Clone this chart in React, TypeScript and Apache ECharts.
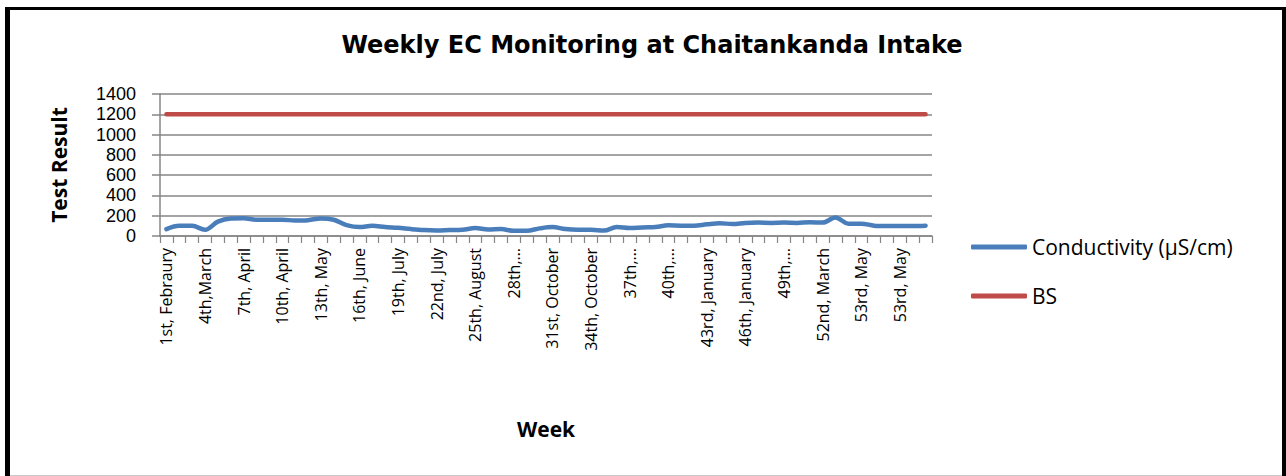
import React, { useEffect, useRef } from "react";
import * as echarts from "echarts";

const weeks: string[] = [
  "1st, Febraury", "2nd, Febraury", "3rd, Febraury", "4th,March", "5th, March", "6th, March",
  "7th, April", "8th, April", "9th, April", "10th, April", "11th, April", "12th, May",
  "13th, May", "14th, May", "15th, June", "16th, June", "17th, June", "18th, July",
  "19th, July", "20th, July", "21st, July", "22nd, July", "23rd, August", "24th, August",
  "25th, August", "26th, September", "27th, September", "28th,…", "29th, September", "30th, October",
  "31st, October", "32nd, October", "33rd, October", "34th, October", "35th, November", "36th, November",
  "37th,…", "38th, November", "39th, December", "40th,…", "41st, December", "42nd, January",
  "43rd, January", "44th, January", "45th, January", "46th, January", "47th, February", "48th, February",
  "49th,…", "50th, February", "51st, March", "52nd, March", "53rd, April", "53rd, April",
  "53rd, May", "53rd, May", "53rd, May", "53rd, May", "53rd, June", "53rd, June",
];

const conductivity: number[] = [
  68, 100, 100, 61, 142, 173, 176, 160, 160, 160,
  153, 156, 173, 160, 108, 88, 100, 88, 81, 68,
  58, 54, 58, 61, 78, 64, 68, 51, 51, 75,
  88, 68, 61, 61, 54, 88, 78, 85, 88, 105,
  102, 102, 115, 125, 119, 129, 132, 129, 132, 129,
  136, 132, 183, 122, 122, 102, 98, 98, 98, 102,
];

const bs: number[] = [
  1200, 1200, 1200, 1200, 1200, 1200, 1200, 1200, 1200, 1200,
  1200, 1200, 1200, 1200, 1200, 1200, 1200, 1200, 1200, 1200,
  1200, 1200, 1200, 1200, 1200, 1200, 1200, 1200, 1200, 1200,
  1200, 1200, 1200, 1200, 1200, 1200, 1200, 1200, 1200, 1200,
  1200, 1200, 1200, 1200, 1200, 1200, 1200, 1200, 1200, 1200,
  1200, 1200, 1200, 1200, 1200, 1200, 1200, 1200, 1200, 1200,
];

const FONT = "'Open Sans', 'Liberation Sans', sans-serif";
const AXIS_GRAY = "#868686";

export default function App() {
  const ref = useRef<HTMLDivElement>(null);

  useEffect(() => {
    if (!ref.current) return;
    const chart = echarts.init(ref.current, undefined, { renderer: "svg" });
    chart.setOption({
      animation: false,
      backgroundColor: "#ffffff",
      title: {
        text: "Weekly EC Monitoring at Chaitankanda Intake",
        left: 647,
        top: 28,
        textAlign: "center",
        textStyle: {
          fontFamily: "'DejaVu Sans', sans-serif",
          fontWeight: "bold",
          fontSize: 24,
          color: "#000",
        },
      },
      legend: {
        orient: "vertical",
        left: 966,
        top: 230,
        itemWidth: 56,
        itemHeight: 5,
        itemGap: 25,
        icon: "roundRect",
        textStyle: { fontFamily: FONT, fontSize: 21, color: "#000", lineHeight: 24 },
        data: ["Conductivity (µS/cm)", "BS"],
      },
      grid: {
        left: 160,
        right: 354,
        top: 94,
        bottom: 240,
        containLabel: false,
        outerBoundsMode: "none",
      },
      xAxis: {
        type: "category",
        data: weeks,
        boundaryGap: true,
        name: "Week",
        nameLocation: "middle",
        nameGap: 182,
        nameTextStyle: { fontFamily: FONT, fontWeight: "bold", fontSize: 21, color: "#000" },
        axisLine: { show: true, lineStyle: { color: AXIS_GRAY, width: 1.5 } },
        axisTick: { show: true, interval: 0, length: 7, alignWithLabel: false, lineStyle: { color: AXIS_GRAY, width: 1.2 } },
        axisLabel: {
          interval: 2,
          rotate: 90,
          margin: 12,
          fontFamily: FONT,
          fontSize: 16,
          color: "#000",
        },
        splitLine: { show: false },
      },
      yAxis: {
        type: "value",
        min: 0,
        max: 1400,
        interval: 200,
        name: "Test Result",
        nameLocation: "middle",
        nameRotate: 90,
        nameGap: 91,
        nameTextStyle: { fontFamily: FONT, fontWeight: "bold", fontSize: 21, color: "#000" },
        axisLine: { show: true, lineStyle: { color: AXIS_GRAY, width: 1.5 } },
        axisTick: { show: true, length: 8, lineStyle: { color: AXIS_GRAY, width: 1.5 } },
        axisLabel: {
          margin: 24,
          fontFamily: "'Liberation Sans', Arial, sans-serif",
          fontSize: 18,
          lineHeight: 18,
          color: "#000",
          formatter: (v: number) => String(v),
        },
        splitLine: { show: true, lineStyle: { color: AXIS_GRAY, width: 1.5 } },
      },
      series: [
        {
          name: "Conductivity (µS/cm)",
          type: "line",
          data: conductivity,
          smooth: 0.35,
          showSymbol: false,
          symbol: "none",
          color: "#4A7EBB",
          lineStyle: { color: "#4A7EBB", width: 4.5, cap: "round", join: "round" },
          z: 3,
        },
        {
          name: "BS",
          type: "line",
          data: bs,
          showSymbol: false,
          symbol: "none",
          color: "#BE4B48",
          lineStyle: { color: "#BE4B48", width: 4.5, cap: "round" },
          z: 2,
        },
      ],
      graphic: [
        { type: "rect", left: 5, top: 7, shape: { width: 5, height: 469 }, style: { fill: "#000" }, silent: true },
        { type: "rect", left: 5, top: 7, shape: { width: 1281, height: 3 }, style: { fill: "#000" }, silent: true },
        { type: "rect", left: 1282, top: 7, shape: { width: 4, height: 469 }, style: { fill: "#000" }, silent: true },
        { type: "line", shape: { x1: 10, y1: 475.5, x2: 1282, y2: 475.5 }, style: { stroke: "#c8c8c8", lineWidth: 1 }, silent: true },
      ],
    });
    return () => chart.dispose();
  }, []);

  return (
    <div
      ref={ref}
      style={{ position: "fixed", left: 0, top: 0, width: 1286, height: 476, background: "#fff" }}
    />
  );
}
